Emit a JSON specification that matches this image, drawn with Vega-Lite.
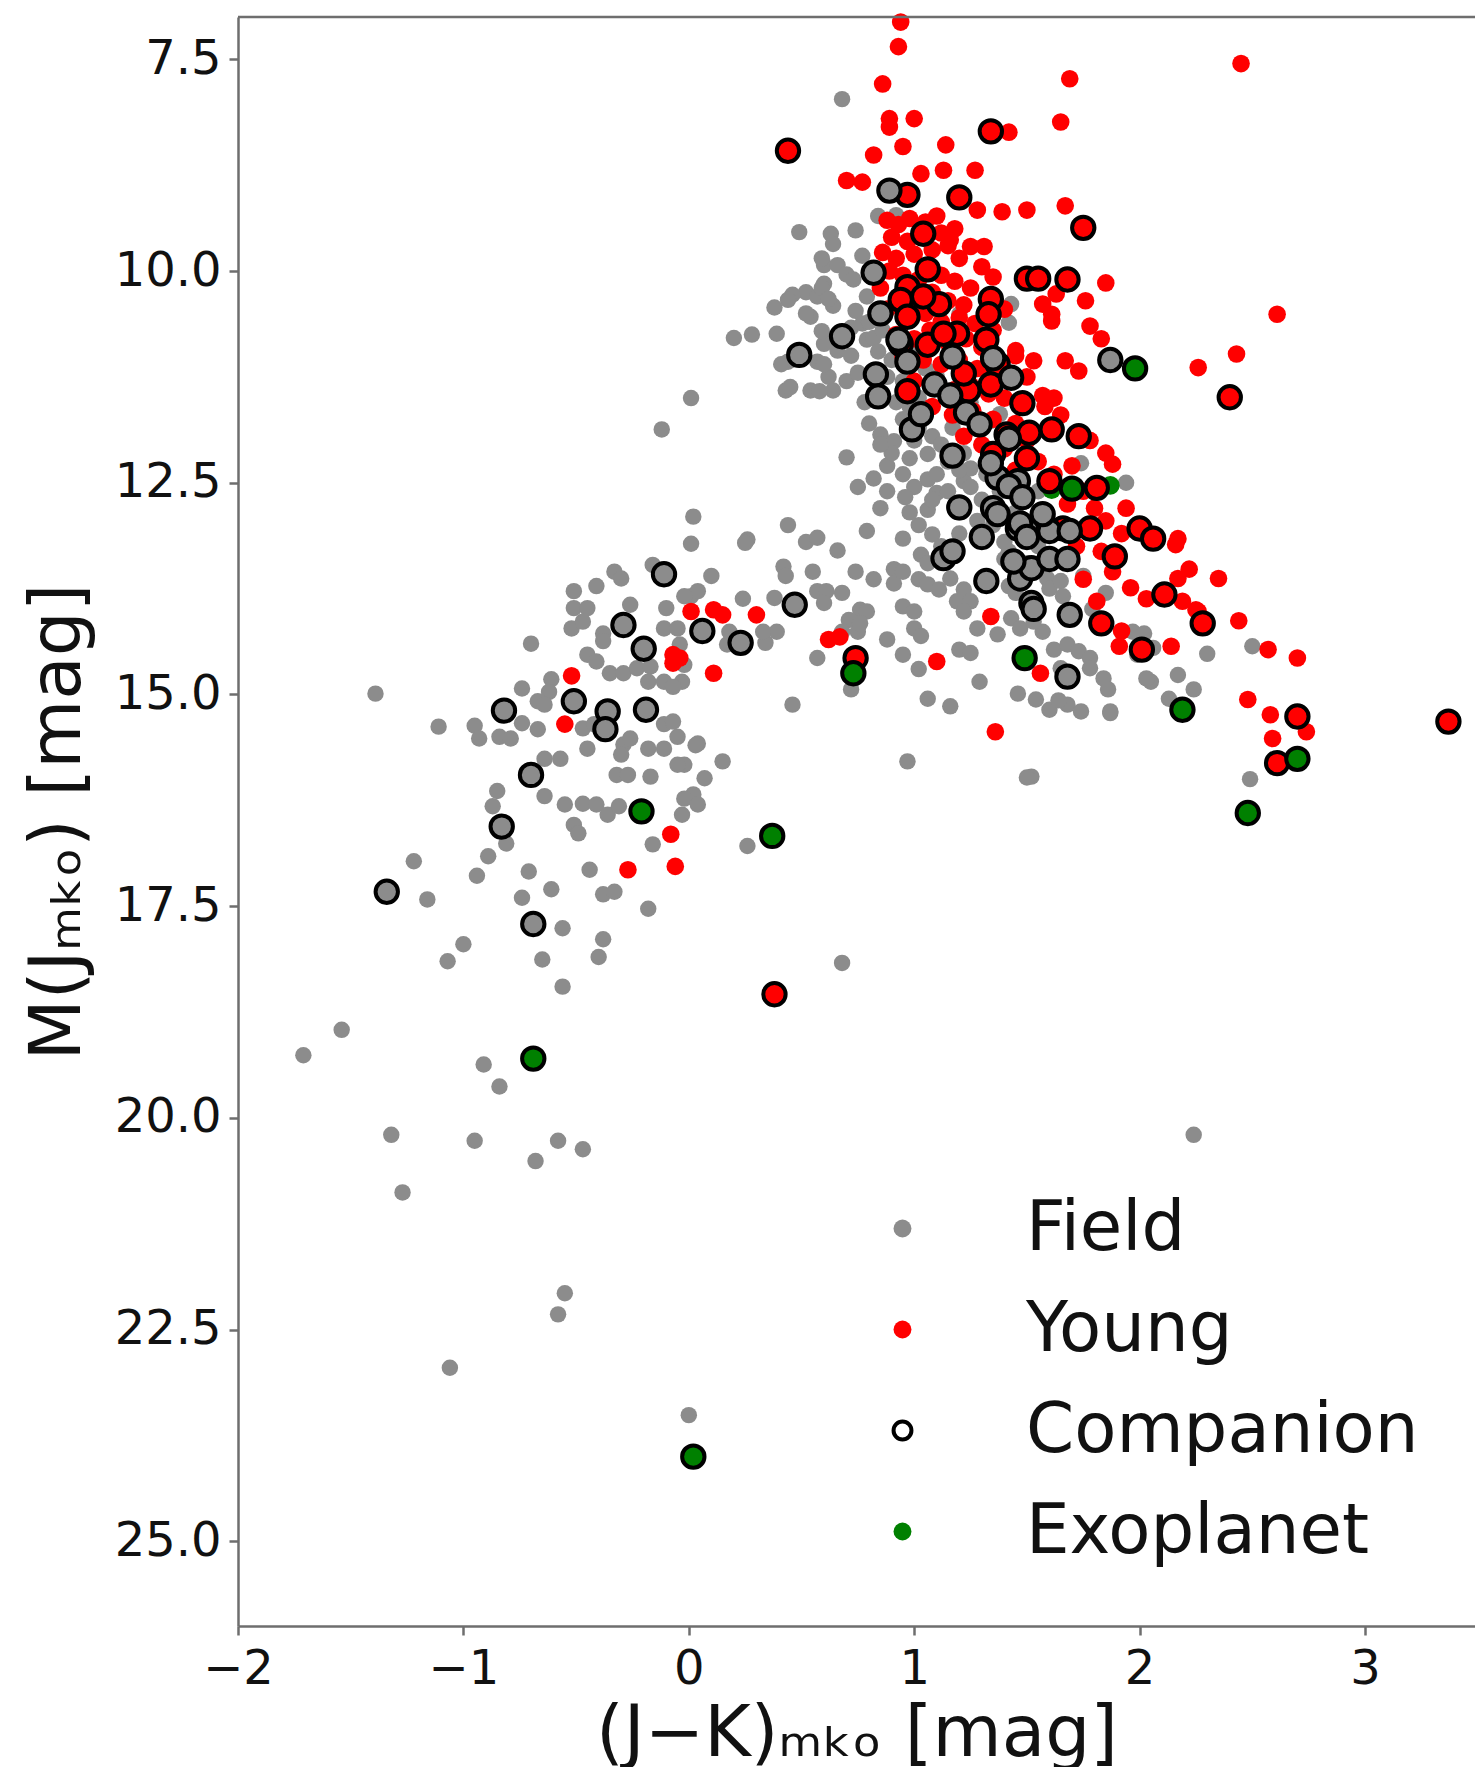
{
"$schema": "https://vega.github.io/schema/vega-lite/v6.json",
"autosize": {"type": "none"},
"padding": {"left": 238, "top": 17, "right": 0, "bottom": 141},
"width": 1237,
"height": 1609,
"background": "white",
"datasets": {
"pts": [
{"x":0.68,"y":7.97,"t":"Field"},{"x":0.84,"y":9.35,"t":"Field"},{"x":0.92,"y":9.34,"t":"Field"},{"x":0.49,"y":9.54,"t":"Field"},{"x":0.63,"y":9.56,"t":"Field"},{"x":0.64,"y":9.68,"t":"Field"},{"x":0.74,"y":9.52,"t":"Field"},{"x":0.77,"y":9.82,"t":"Field"},{"x":0.60,"y":9.93,"t":"Field"},{"x":0.66,"y":9.93,"t":"Field"},{"x":0.70,"y":10.04,"t":"Field"},{"x":0.73,"y":10.10,"t":"Field"},{"x":0.52,"y":10.25,"t":"Field"},{"x":0.60,"y":10.15,"t":"Field"},{"x":0.46,"y":10.28,"t":"Field"},{"x":0.59,"y":9.85,"t":"Field"},{"x":0.44,"y":10.34,"t":"Field"},{"x":0.38,"y":10.43,"t":"Field"},{"x":0.57,"y":10.30,"t":"Field"},{"x":0.64,"y":10.41,"t":"Field"},{"x":0.74,"y":10.47,"t":"Field"},{"x":0.79,"y":10.30,"t":"Field"},{"x":0.54,"y":10.54,"t":"Field"},{"x":0.72,"y":10.67,"t":"Field"},{"x":0.62,"y":10.81,"t":"Field"},{"x":0.79,"y":10.81,"t":"Field"},{"x":0.39,"y":10.74,"t":"Field"},{"x":0.28,"y":10.75,"t":"Field"},{"x":0.20,"y":10.79,"t":"Field"},{"x":0.44,"y":11.07,"t":"Field"},{"x":0.57,"y":11.07,"t":"Field"},{"x":0.62,"y":11.25,"t":"Field"},{"x":0.54,"y":11.41,"t":"Field"},{"x":0.64,"y":11.41,"t":"Field"},{"x":0.43,"y":11.41,"t":"Field"},{"x":0.01,"y":11.50,"t":"Field"},{"x":-0.12,"y":11.87,"t":"Field"},{"x":0.59,"y":10.20,"t":"Field"},{"x":0.62,"y":10.33,"t":"Field"},{"x":0.52,"y":10.50,"t":"Field"},{"x":0.41,"y":11.10,"t":"Field"},{"x":0.60,"y":11.10,"t":"Field"},{"x":0.45,"y":11.37,"t":"Field"},{"x":0.58,"y":11.42,"t":"Field"},{"x":0.70,"y":11.30,"t":"Field"},{"x":0.60,"y":10.86,"t":"Field"},{"x":0.59,"y":10.71,"t":"Field"},{"x":0.66,"y":10.94,"t":"Field"},{"x":0.77,"y":10.62,"t":"Field"},{"x":0.82,"y":10.79,"t":"Field"},{"x":0.85,"y":11.93,"t":"Field"},{"x":0.91,"y":12.01,"t":"Field"},{"x":0.88,"y":12.30,"t":"Field"},{"x":0.98,"y":12.21,"t":"Field"},{"x":1.06,"y":12.16,"t":"Field"},{"x":1.06,"y":12.46,"t":"Field"},{"x":1.10,"y":12.62,"t":"Field"},{"x":1.06,"y":12.82,"t":"Field"},{"x":0.02,"y":12.90,"t":"Field"},{"x":0.79,"y":13.07,"t":"Field"},{"x":0.95,"y":13.16,"t":"Field"},{"x":1.08,"y":13.11,"t":"Field"},{"x":0.26,"y":13.17,"t":"Field"},{"x":0.01,"y":13.22,"t":"Field"},{"x":0.25,"y":13.21,"t":"Field"},{"x":0.10,"y":13.60,"t":"Field"},{"x":0.42,"y":13.49,"t":"Field"},{"x":0.43,"y":13.60,"t":"Field"},{"x":0.55,"y":13.55,"t":"Field"},{"x":0.01,"y":13.84,"t":"Field"},{"x":0.04,"y":13.78,"t":"Field"},{"x":0.24,"y":13.87,"t":"Field"},{"x":0.38,"y":13.86,"t":"Field"},{"x":0.57,"y":13.78,"t":"Field"},{"x":0.61,"y":13.78,"t":"Field"},{"x":0.60,"y":13.92,"t":"Field"},{"x":0.76,"y":14.00,"t":"Field"},{"x":0.79,"y":14.02,"t":"Field"},{"x":0.71,"y":14.12,"t":"Field"},{"x":0.68,"y":14.26,"t":"Field"},{"x":0.75,"y":14.26,"t":"Field"},{"x":0.76,"y":14.16,"t":"Field"},{"x":0.88,"y":14.35,"t":"Field"},{"x":0.82,"y":13.64,"t":"Field"},{"x":0.91,"y":13.52,"t":"Field"},{"x":0.91,"y":13.69,"t":"Field"},{"x":0.95,"y":13.55,"t":"Field"},{"x":1.03,"y":13.35,"t":"Field"},{"x":1.06,"y":13.45,"t":"Field"},{"x":1.02,"y":13.64,"t":"Field"},{"x":1.06,"y":13.70,"t":"Field"},{"x":0.95,"y":13.96,"t":"Field"},{"x":1.00,"y":14.02,"t":"Field"},{"x":1.00,"y":14.22,"t":"Field"},{"x":1.03,"y":14.31,"t":"Field"},{"x":1.11,"y":13.76,"t":"Field"},{"x":1.16,"y":13.63,"t":"Field"},{"x":1.19,"y":13.90,"t":"Field"},{"x":0.95,"y":14.53,"t":"Field"},{"x":0.57,"y":14.57,"t":"Field"},{"x":0.34,"y":14.39,"t":"Field"},{"x":0.39,"y":14.26,"t":"Field"},{"x":0.33,"y":14.26,"t":"Field"},{"x":0.17,"y":14.41,"t":"Field"},{"x":0.18,"y":14.26,"t":"Field"},{"x":-0.03,"y":14.85,"t":"Field"},{"x":-0.04,"y":14.41,"t":"Field"},{"x":-0.02,"y":14.65,"t":"Field"},{"x":1.02,"y":14.70,"t":"Field"},{"x":1.06,"y":15.05,"t":"Field"},{"x":1.16,"y":15.14,"t":"Field"},{"x":0.72,"y":14.94,"t":"Field"},{"x":0.46,"y":15.12,"t":"Field"},{"x":1.20,"y":14.47,"t":"Field"},{"x":0.04,"y":15.58,"t":"Field"},{"x":0.15,"y":15.79,"t":"Field"},{"x":0.07,"y":15.99,"t":"Field"},{"x":-0.02,"y":15.83,"t":"Field"},{"x":0.97,"y":15.79,"t":"Field"},{"x":1.31,"y":13.11,"t":"Field"},{"x":1.42,"y":13.31,"t":"Field"},{"x":1.45,"y":13.45,"t":"Field"},{"x":1.40,"y":13.40,"t":"Field"},{"x":1.59,"y":13.63,"t":"Field"},{"x":1.60,"y":13.75,"t":"Field"},{"x":1.65,"y":13.66,"t":"Field"},{"x":1.22,"y":13.76,"t":"Field"},{"x":1.25,"y":13.90,"t":"Field"},{"x":1.22,"y":14.02,"t":"Field"},{"x":1.42,"y":13.72,"t":"Field"},{"x":1.45,"y":13.80,"t":"Field"},{"x":1.66,"y":13.84,"t":"Field"},{"x":1.43,"y":14.10,"t":"Field"},{"x":1.47,"y":14.22,"t":"Field"},{"x":1.57,"y":14.26,"t":"Field"},{"x":1.53,"y":14.14,"t":"Field"},{"x":1.28,"y":14.22,"t":"Field"},{"x":1.37,"y":14.29,"t":"Field"},{"x":1.25,"y":14.51,"t":"Field"},{"x":1.62,"y":14.47,"t":"Field"},{"x":1.68,"y":14.41,"t":"Field"},{"x":1.73,"y":14.49,"t":"Field"},{"x":1.78,"y":14.57,"t":"Field"},{"x":1.65,"y":14.69,"t":"Field"},{"x":1.78,"y":14.69,"t":"Field"},{"x":1.84,"y":14.81,"t":"Field"},{"x":1.29,"y":14.85,"t":"Field"},{"x":1.86,"y":14.94,"t":"Field"},{"x":1.87,"y":15.22,"t":"Field"},{"x":1.46,"y":14.99,"t":"Field"},{"x":1.54,"y":15.06,"t":"Field"},{"x":1.60,"y":15.18,"t":"Field"},{"x":1.68,"y":15.12,"t":"Field"},{"x":2.05,"y":14.85,"t":"Field"},{"x":2.17,"y":14.77,"t":"Field"},{"x":2.13,"y":15.05,"t":"Field"},{"x":2.24,"y":14.94,"t":"Field"},{"x":2.30,"y":14.52,"t":"Field"},{"x":1.52,"y":15.97,"t":"Field"},{"x":1.79,"y":13.99,"t":"Field"},{"x":1.85,"y":13.80,"t":"Field"},{"x":1.97,"y":14.26,"t":"Field"},{"x":2.02,"y":14.28,"t":"Field"},{"x":1.99,"y":14.53,"t":"Field"},{"x":2.06,"y":14.45,"t":"Field"},{"x":2.50,"y":14.43,"t":"Field"},{"x":2.49,"y":16.00,"t":"Field"},
{"x":-0.33,"y":13.55,"t":"Field"},{"x":-0.30,"y":13.63,"t":"Field"},{"x":-0.16,"y":13.47,"t":"Field"},{"x":-0.51,"y":13.78,"t":"Field"},{"x":-0.41,"y":13.72,"t":"Field"},{"x":-0.51,"y":13.98,"t":"Field"},{"x":-0.45,"y":13.98,"t":"Field"},{"x":-0.52,"y":14.22,"t":"Field"},{"x":-0.47,"y":14.14,"t":"Field"},{"x":-0.10,"y":13.98,"t":"Field"},{"x":-0.11,"y":14.22,"t":"Field"},{"x":-0.05,"y":14.22,"t":"Field"},{"x":-0.02,"y":13.84,"t":"Field"},{"x":-0.38,"y":14.28,"t":"Field"},{"x":-0.38,"y":14.37,"t":"Field"},{"x":-0.26,"y":13.94,"t":"Field"},{"x":-0.45,"y":14.53,"t":"Field"},{"x":-0.41,"y":14.61,"t":"Field"},{"x":-0.35,"y":14.75,"t":"Field"},{"x":-0.29,"y":14.75,"t":"Field"},{"x":-0.23,"y":14.69,"t":"Field"},{"x":-0.17,"y":14.67,"t":"Field"},{"x":-0.18,"y":14.85,"t":"Field"},{"x":-0.11,"y":14.85,"t":"Field"},{"x":-0.07,"y":14.91,"t":"Field"},{"x":-0.70,"y":14.40,"t":"Field"},{"x":-0.61,"y":14.82,"t":"Field"},{"x":-0.62,"y":14.97,"t":"Field"},{"x":-0.74,"y":14.93,"t":"Field"},{"x":-0.67,"y":15.08,"t":"Field"},{"x":-0.64,"y":15.12,"t":"Field"},{"x":-1.39,"y":14.99,"t":"Field"},{"x":-0.95,"y":15.37,"t":"Field"},{"x":-0.93,"y":15.52,"t":"Field"},{"x":-0.84,"y":15.50,"t":"Field"},{"x":-0.79,"y":15.52,"t":"Field"},{"x":-0.74,"y":15.34,"t":"Field"},{"x":-0.67,"y":15.41,"t":"Field"},{"x":-0.47,"y":15.40,"t":"Field"},{"x":-0.42,"y":15.35,"t":"Field"},{"x":-0.45,"y":15.64,"t":"Field"},{"x":-0.29,"y":15.59,"t":"Field"},{"x":-0.26,"y":15.52,"t":"Field"},{"x":-0.18,"y":15.64,"t":"Field"},{"x":-0.11,"y":15.64,"t":"Field"},{"x":-0.05,"y":15.50,"t":"Field"},{"x":-0.11,"y":15.35,"t":"Field"},{"x":-0.07,"y":15.32,"t":"Field"},{"x":-0.30,"y":15.71,"t":"Field"},{"x":-0.32,"y":15.95,"t":"Field"},{"x":-0.27,"y":15.95,"t":"Field"},{"x":-0.17,"y":15.97,"t":"Field"},{"x":-0.05,"y":15.83,"t":"Field"},{"x":-0.64,"y":15.76,"t":"Field"},{"x":-0.57,"y":15.76,"t":"Field"},{"x":-0.85,"y":16.14,"t":"Field"},{"x":-0.64,"y":16.20,"t":"Field"},{"x":0.03,"y":15.60,"t":"Field"},{"x":0.02,"y":16.18,"t":"Field"},{"x":-0.87,"y":16.32,"t":"Field"},{"x":-0.55,"y":16.30,"t":"Field"},{"x":-0.47,"y":16.29,"t":"Field"},{"x":-0.41,"y":16.30,"t":"Field"},{"x":-0.36,"y":16.42,"t":"Field"},{"x":-0.31,"y":16.32,"t":"Field"},{"x":-0.51,"y":16.54,"t":"Field"},{"x":-0.49,"y":16.64,"t":"Field"},{"x":-0.02,"y":16.23,"t":"Field"},{"x":0.04,"y":16.30,"t":"Field"},{"x":-0.03,"y":16.42,"t":"Field"},{"x":-0.16,"y":16.77,"t":"Field"},{"x":-0.81,"y":16.76,"t":"Field"},{"x":-0.89,"y":16.91,"t":"Field"},{"x":-0.94,"y":17.14,"t":"Field"},{"x":-1.22,"y":16.97,"t":"Field"},{"x":-1.16,"y":17.42,"t":"Field"},{"x":-0.71,"y":17.09,"t":"Field"},{"x":-0.61,"y":17.30,"t":"Field"},{"x":-0.74,"y":17.40,"t":"Field"},{"x":-0.44,"y":17.07,"t":"Field"},{"x":-0.38,"y":17.36,"t":"Field"},{"x":-0.33,"y":17.33,"t":"Field"},{"x":-0.18,"y":17.53,"t":"Field"},{"x":-0.56,"y":17.76,"t":"Field"},{"x":-0.38,"y":17.89,"t":"Field"},{"x":-0.40,"y":18.10,"t":"Field"},{"x":-1.00,"y":17.95,"t":"Field"},{"x":-1.07,"y":18.15,"t":"Field"},{"x":-0.65,"y":18.13,"t":"Field"},{"x":-0.56,"y":18.45,"t":"Field"},{"x":-1.54,"y":18.96,"t":"Field"},{"x":-1.71,"y":19.26,"t":"Field"},{"x":-0.91,"y":19.37,"t":"Field"},{"x":-0.84,"y":19.63,"t":"Field"},{"x":0.26,"y":16.79,"t":"Field"},{"x":-1.32,"y":20.20,"t":"Field"},{"x":-0.95,"y":20.27,"t":"Field"},{"x":-0.58,"y":20.27,"t":"Field"},{"x":-0.47,"y":20.37,"t":"Field"},{"x":-0.68,"y":20.51,"t":"Field"},{"x":-1.27,"y":20.88,"t":"Field"},{"x":2.24,"y":20.20,"t":"Field"},{"x":-0.55,"y":22.07,"t":"Field"},{"x":-0.58,"y":22.32,"t":"Field"},{"x":-1.06,"y":22.95,"t":"Field"},{"x":0.00,"y":23.51,"t":"Field"},{"x":-1.11,"y":15.38,"t":"Field"},{"x":0.68,"y":18.17,"t":"Field"},{"x":1.50,"y":15.98,"t":"Field"},{"x":1.64,"y":15.07,"t":"Field"},{"x":1.74,"y":15.20,"t":"Field"},{"x":1.87,"y":15.20,"t":"Field"},{"x":2.03,"y":14.81,"t":"Field"},{"x":1.43,"y":10.39,"t":"Field"},{"x":1.42,"y":10.61,"t":"Field"},{"x":1.20,"y":10.51,"t":"Field"},{"x":1.38,"y":11.69,"t":"Field"},{"x":1.34,"y":11.77,"t":"Field"},{"x":1.74,"y":12.27,"t":"Field"},{"x":1.94,"y":12.50,"t":"Field"},{"x":1.30,"y":13.10,"t":"Field"},{"x":1.22,"y":12.48,"t":"Field"},{"x":1.25,"y":12.33,"t":"Field"},
{"x":0.80,"y":10.60,"t":"Field"},{"x":0.86,"y":10.70,"t":"Field"},{"x":0.84,"y":10.95,"t":"Field"},{"x":0.90,"y":11.05,"t":"Field"},{"x":0.88,"y":11.25,"t":"Field"},{"x":0.95,"y":11.30,"t":"Field"},{"x":0.92,"y":11.55,"t":"Field"},{"x":0.98,"y":11.60,"t":"Field"},{"x":1.02,"y":11.50,"t":"Field"},{"x":0.95,"y":11.75,"t":"Field"},{"x":1.02,"y":11.85,"t":"Field"},{"x":1.08,"y":11.95,"t":"Field"},{"x":1.12,"y":12.05,"t":"Field"},{"x":1.00,"y":12.00,"t":"Field"},{"x":1.15,"y":12.25,"t":"Field"},{"x":1.20,"y":12.35,"t":"Field"},{"x":1.10,"y":12.40,"t":"Field"},{"x":1.25,"y":12.55,"t":"Field"},{"x":1.15,"y":12.60,"t":"Field"},{"x":1.30,"y":12.70,"t":"Field"},{"x":1.20,"y":12.85,"t":"Field"},{"x":1.28,"y":12.95,"t":"Field"},{"x":1.35,"y":13.00,"t":"Field"},{"x":1.40,"y":13.20,"t":"Field"},{"x":1.45,"y":12.85,"t":"Field"},{"x":1.38,"y":12.60,"t":"Field"},{"x":1.32,"y":12.40,"t":"Field"},{"x":1.22,"y":12.15,"t":"Field"},{"x":1.17,"y":11.85,"t":"Field"},{"x":1.25,"y":11.55,"t":"Field"},{"x":1.10,"y":11.25,"t":"Field"},{"x":1.05,"y":11.15,"t":"Field"},{"x":0.98,"y":10.95,"t":"Field"},{"x":1.08,"y":12.70,"t":"Field"},{"x":1.00,"y":12.55,"t":"Field"},{"x":0.95,"y":12.40,"t":"Field"},{"x":0.90,"y":12.15,"t":"Field"},{"x":0.85,"y":12.05,"t":"Field"},{"x":0.80,"y":11.80,"t":"Field"},{"x":0.78,"y":11.55,"t":"Field"},{"x":0.75,"y":11.20,"t":"Field"},{"x":0.72,"y":11.00,"t":"Field"},{"x":1.55,"y":13.25,"t":"Field"},{"x":1.50,"y":13.45,"t":"Field"},{"x":1.62,"y":13.10,"t":"Field"},{"x":1.70,"y":13.40,"t":"Field"},{"x":1.75,"y":13.60,"t":"Field"},{"x":1.48,"y":12.70,"t":"Field"},{"x":1.55,"y":12.60,"t":"Field"},{"x":1.02,"y":13.00,"t":"Field"},{"x":0.98,"y":12.85,"t":"Field"},{"x":1.12,"y":13.25,"t":"Field"},{"x":1.20,"y":13.10,"t":"Field"},{"x":0.88,"y":12.60,"t":"Field"},{"x":0.85,"y":12.80,"t":"Field"},{"x":0.82,"y":12.45,"t":"Field"},{"x":0.70,"y":12.20,"t":"Field"},{"x":0.75,"y":12.55,"t":"Field"},{"x":0.44,"y":13.00,"t":"Field"},{"x":0.52,"y":13.20,"t":"Field"},{"x":0.57,"y":13.15,"t":"Field"},{"x":0.66,"y":13.30,"t":"Field"},{"x":0.74,"y":13.55,"t":"Field"},{"x":0.68,"y":13.80,"t":"Field"},{"x":0.96,"y":12.67,"t":"Field"},
{"x":0.94,"y":7.06,"t":"Young"},{"x":0.93,"y":7.35,"t":"Young"},{"x":0.86,"y":7.79,"t":"Young"},{"x":0.89,"y":8.20,"t":"Young"},{"x":0.89,"y":8.30,"t":"Young"},{"x":1.00,"y":8.20,"t":"Young"},{"x":0.82,"y":8.63,"t":"Young"},{"x":0.95,"y":8.53,"t":"Young"},{"x":1.14,"y":8.51,"t":"Young"},{"x":1.27,"y":8.81,"t":"Young"},{"x":0.70,"y":8.93,"t":"Young"},{"x":0.77,"y":8.95,"t":"Young"},{"x":1.03,"y":8.85,"t":"Young"},{"x":1.13,"y":8.81,"t":"Young"},{"x":1.28,"y":9.28,"t":"Young"},{"x":1.39,"y":9.30,"t":"Young"},{"x":1.35,"y":10.07,"t":"Young"},{"x":1.16,"y":9.63,"t":"Young"},{"x":1.25,"y":9.71,"t":"Young"},{"x":1.31,"y":9.71,"t":"Young"},{"x":1.69,"y":7.73,"t":"Young"},{"x":2.45,"y":7.55,"t":"Young"},{"x":1.65,"y":8.24,"t":"Young"},{"x":1.42,"y":8.36,"t":"Young"},{"x":1.50,"y":9.28,"t":"Young"},{"x":1.67,"y":9.23,"t":"Young"},{"x":1.85,"y":10.14,"t":"Young"},{"x":1.63,"y":10.27,"t":"Young"},{"x":1.57,"y":10.39,"t":"Young"},{"x":1.61,"y":10.51,"t":"Young"},{"x":1.76,"y":10.35,"t":"Young"},{"x":2.61,"y":10.51,"t":"Young"},{"x":2.43,"y":10.98,"t":"Young"},{"x":2.26,"y":11.14,"t":"Young"},{"x":2.16,"y":13.23,"t":"Young"},{"x":1.61,"y":10.59,"t":"Young"},{"x":1.78,"y":10.65,"t":"Young"},{"x":1.83,"y":10.80,"t":"Young"},{"x":1.53,"y":11.06,"t":"Young"},{"x":1.67,"y":11.06,"t":"Young"},{"x":1.73,"y":11.18,"t":"Young"},{"x":1.45,"y":10.94,"t":"Young"},{"x":1.62,"y":11.50,"t":"Young"},{"x":1.88,"y":12.28,"t":"Young"},{"x":1.94,"y":12.80,"t":"Young"},{"x":2.17,"y":13.16,"t":"Young"},{"x":1.57,"y":11.47,"t":"Young"},{"x":1.41,"y":11.25,"t":"Young"},{"x":1.34,"y":14.08,"t":"Young"},{"x":1.56,"y":14.75,"t":"Young"},{"x":1.36,"y":15.44,"t":"Young"},{"x":1.75,"y":13.64,"t":"Young"},{"x":1.81,"y":13.90,"t":"Young"},{"x":1.91,"y":14.43,"t":"Young"},{"x":1.96,"y":13.74,"t":"Young"},{"x":2.14,"y":14.43,"t":"Young"},{"x":2.22,"y":13.52,"t":"Young"},{"x":2.17,"y":13.63,"t":"Young"},{"x":2.03,"y":13.87,"t":"Young"},{"x":2.19,"y":13.90,"t":"Young"},{"x":2.26,"y":14.02,"t":"Young"},{"x":1.83,"y":13.31,"t":"Young"},{"x":1.88,"y":13.55,"t":"Young"},{"x":1.92,"y":14.25,"t":"Young"},{"x":2.35,"y":13.63,"t":"Young"},{"x":2.25,"y":14.00,"t":"Young"},{"x":2.44,"y":14.13,"t":"Young"},{"x":2.57,"y":14.47,"t":"Young"},{"x":2.70,"y":14.57,"t":"Young"},{"x":2.48,"y":15.06,"t":"Young"},{"x":2.58,"y":15.24,"t":"Young"},{"x":2.74,"y":15.44,"t":"Young"},{"x":2.59,"y":15.52,"t":"Young"},{"x":1.10,"y":14.61,"t":"Young"},{"x":0.62,"y":14.35,"t":"Young"},{"x":0.67,"y":14.32,"t":"Young"},{"x":0.01,"y":14.02,"t":"Young"},{"x":0.11,"y":14.00,"t":"Young"},{"x":0.15,"y":14.06,"t":"Young"},{"x":0.30,"y":14.06,"t":"Young"},{"x":0.11,"y":14.75,"t":"Young"},{"x":-0.04,"y":14.57,"t":"Young"},{"x":-0.52,"y":14.78,"t":"Young"},{"x":-0.55,"y":15.35,"t":"Young"},{"x":-0.07,"y":14.53,"t":"Young"},{"x":-0.07,"y":14.63,"t":"Young"},{"x":-0.08,"y":16.65,"t":"Young"},{"x":-0.27,"y":17.07,"t":"Young"},{"x":-0.06,"y":17.03,"t":"Young"},
{"x":0.88,"y":9.40,"t":"Young"},{"x":0.93,"y":9.45,"t":"Young"},{"x":0.98,"y":9.38,"t":"Young"},{"x":1.05,"y":9.42,"t":"Young"},{"x":1.10,"y":9.35,"t":"Young"},{"x":0.90,"y":9.60,"t":"Young"},{"x":0.97,"y":9.65,"t":"Young"},{"x":1.12,"y":9.55,"t":"Young"},{"x":1.18,"y":9.50,"t":"Young"},{"x":0.86,"y":9.78,"t":"Young"},{"x":0.92,"y":9.85,"t":"Young"},{"x":1.00,"y":9.80,"t":"Young"},{"x":1.08,"y":9.75,"t":"Young"},{"x":1.15,"y":9.70,"t":"Young"},{"x":1.20,"y":9.85,"t":"Young"},{"x":0.89,"y":10.00,"t":"Young"},{"x":0.95,"y":10.05,"t":"Young"},{"x":1.02,"y":10.10,"t":"Young"},{"x":1.12,"y":10.05,"t":"Young"},{"x":1.18,"y":10.12,"t":"Young"},{"x":0.85,"y":10.20,"t":"Young"},{"x":0.93,"y":10.30,"t":"Young"},{"x":1.00,"y":10.35,"t":"Young"},{"x":1.08,"y":10.25,"t":"Young"},{"x":1.15,"y":10.35,"t":"Young"},{"x":1.22,"y":10.40,"t":"Young"},{"x":0.88,"y":10.45,"t":"Young"},{"x":0.96,"y":10.55,"t":"Young"},{"x":1.05,"y":10.50,"t":"Young"},{"x":1.12,"y":10.60,"t":"Young"},{"x":1.20,"y":10.55,"t":"Young"},{"x":1.27,"y":10.62,"t":"Young"},{"x":0.92,"y":10.75,"t":"Young"},{"x":1.00,"y":10.80,"t":"Young"},{"x":1.07,"y":10.70,"t":"Young"},{"x":1.15,"y":10.85,"t":"Young"},{"x":1.23,"y":10.80,"t":"Young"},{"x":1.30,"y":10.90,"t":"Young"},{"x":0.95,"y":11.00,"t":"Young"},{"x":1.04,"y":11.05,"t":"Young"},{"x":1.12,"y":11.10,"t":"Young"},{"x":1.20,"y":11.05,"t":"Young"},{"x":1.28,"y":11.15,"t":"Young"},{"x":1.35,"y":11.20,"t":"Young"},{"x":1.00,"y":11.30,"t":"Young"},{"x":1.10,"y":11.35,"t":"Young"},{"x":1.18,"y":11.40,"t":"Young"},{"x":1.25,"y":11.35,"t":"Young"},{"x":1.33,"y":11.45,"t":"Young"},{"x":1.40,"y":11.50,"t":"Young"},{"x":1.08,"y":11.60,"t":"Young"},{"x":1.17,"y":11.70,"t":"Young"},{"x":1.26,"y":11.65,"t":"Young"},{"x":1.35,"y":11.75,"t":"Young"},{"x":1.45,"y":11.80,"t":"Young"},{"x":1.22,"y":11.95,"t":"Young"},{"x":1.30,"y":12.05,"t":"Young"},{"x":1.40,"y":12.10,"t":"Young"},{"x":1.50,"y":12.00,"t":"Young"},{"x":1.55,"y":12.25,"t":"Young"},{"x":1.45,"y":12.35,"t":"Young"},{"x":1.62,"y":12.40,"t":"Young"},{"x":1.70,"y":12.30,"t":"Young"},{"x":1.75,"y":12.60,"t":"Young"},{"x":1.68,"y":12.75,"t":"Young"},{"x":1.80,"y":12.80,"t":"Young"},{"x":1.85,"y":12.95,"t":"Young"},{"x":1.92,"y":13.10,"t":"Young"},{"x":1.30,"y":9.95,"t":"Young"},{"x":1.25,"y":10.20,"t":"Young"},{"x":1.40,"y":10.45,"t":"Young"},{"x":1.35,"y":10.70,"t":"Young"},{"x":1.45,"y":11.00,"t":"Young"},{"x":1.50,"y":11.25,"t":"Young"},{"x":1.58,"y":11.60,"t":"Young"},{"x":1.65,"y":11.70,"t":"Young"},{"x":1.78,"y":12.00,"t":"Young"},{"x":1.85,"y":12.15,"t":"Young"},{"x":1.58,"y":12.90,"t":"Young"},{"x":1.72,"y":13.25,"t":"Young"},
{"x":1.61,"y":12.58,"t":"Exoplanet"},{"x":1.87,"y":12.53,"t":"Exoplanet"}
],
"comp": [
{"x":0.44,"y":8.58,"t":"Young"},{"x":1.34,"y":8.35,"t":"Young"},{"x":0.97,"y":9.10,"t":"Young"},{"x":1.20,"y":9.13,"t":"Young"},{"x":1.75,"y":9.49,"t":"Young"},{"x":1.04,"y":9.56,"t":"Young"},{"x":1.06,"y":9.98,"t":"Young"},{"x":1.50,"y":10.09,"t":"Young"},{"x":1.55,"y":10.09,"t":"Young"},{"x":1.68,"y":10.10,"t":"Young"},{"x":1.34,"y":10.33,"t":"Young"},{"x":1.33,"y":10.51,"t":"Young"},{"x":1.11,"y":10.39,"t":"Young"},{"x":0.94,"y":10.86,"t":"Young"},{"x":0.97,"y":11.42,"t":"Young"},{"x":1.19,"y":10.74,"t":"Young"},{"x":2.40,"y":11.49,"t":"Young"},{"x":1.48,"y":11.56,"t":"Young"},{"x":1.61,"y":11.87,"t":"Young"},{"x":1.73,"y":11.95,"t":"Young"},{"x":1.41,"y":11.93,"t":"Young"},{"x":1.51,"y":11.91,"t":"Young"},{"x":1.50,"y":12.21,"t":"Young"},{"x":1.35,"y":12.16,"t":"Young"},{"x":1.60,"y":12.48,"t":"Young"},{"x":1.81,"y":12.56,"t":"Young"},{"x":1.66,"y":13.04,"t":"Young"},{"x":1.78,"y":13.04,"t":"Young"},{"x":2.00,"y":13.04,"t":"Young"},{"x":2.06,"y":13.16,"t":"Young"},{"x":1.89,"y":13.37,"t":"Young"},{"x":1.83,"y":14.16,"t":"Young"},{"x":2.11,"y":13.82,"t":"Young"},{"x":2.28,"y":14.16,"t":"Young"},{"x":2.01,"y":14.47,"t":"Young"},{"x":0.74,"y":14.57,"t":"Young"},{"x":2.70,"y":15.26,"t":"Young"},{"x":3.37,"y":15.32,"t":"Young"},{"x":2.61,"y":15.81,"t":"Young"},{"x":0.38,"y":18.54,"t":"Young"},{"x":0.97,"y":10.19,"t":"Young"},{"x":0.94,"y":10.34,"t":"Young"},{"x":1.04,"y":10.30,"t":"Young"},{"x":0.97,"y":10.54,"t":"Young"},{"x":1.06,"y":10.87,"t":"Young"},{"x":1.13,"y":10.74,"t":"Young"},{"x":1.32,"y":10.81,"t":"Young"},{"x":1.37,"y":11.10,"t":"Young"},{"x":1.24,"y":11.41,"t":"Young"},{"x":1.34,"y":11.34,"t":"Young"},{"x":1.22,"y":11.21,"t":"Young"},
{"x":0.89,"y":9.05,"t":"Field"},{"x":0.82,"y":10.02,"t":"Field"},{"x":0.68,"y":10.77,"t":"Field"},{"x":0.49,"y":10.99,"t":"Field"},{"x":1.87,"y":11.05,"t":"Field"},{"x":0.83,"y":11.22,"t":"Field"},{"x":0.84,"y":11.48,"t":"Field"},{"x":0.99,"y":11.87,"t":"Field"},{"x":1.17,"y":12.18,"t":"Field"},{"x":1.20,"y":12.79,"t":"Field"},{"x":1.37,"y":12.44,"t":"Field"},{"x":1.46,"y":12.48,"t":"Field"},{"x":1.35,"y":12.80,"t":"Field"},{"x":1.46,"y":13.04,"t":"Field"},{"x":1.50,"y":13.05,"t":"Field"},{"x":1.60,"y":13.07,"t":"Field"},{"x":1.69,"y":13.07,"t":"Field"},{"x":1.13,"y":13.39,"t":"Field"},{"x":1.17,"y":13.31,"t":"Field"},{"x":1.32,"y":13.66,"t":"Field"},{"x":1.47,"y":13.63,"t":"Field"},{"x":1.52,"y":13.51,"t":"Field"},{"x":1.60,"y":13.40,"t":"Field"},{"x":1.68,"y":13.40,"t":"Field"},{"x":1.52,"y":13.92,"t":"Field"},{"x":1.53,"y":13.99,"t":"Field"},{"x":1.69,"y":14.06,"t":"Field"},{"x":1.68,"y":14.79,"t":"Field"},{"x":0.47,"y":13.94,"t":"Field"},{"x":0.23,"y":14.39,"t":"Field"},{"x":0.06,"y":14.25,"t":"Field"},{"x":-0.11,"y":13.58,"t":"Field"},{"x":-0.29,"y":14.18,"t":"Field"},{"x":-0.20,"y":14.46,"t":"Field"},{"x":-0.51,"y":15.08,"t":"Field"},{"x":-0.36,"y":15.20,"t":"Field"},{"x":-0.37,"y":15.41,"t":"Field"},{"x":-0.19,"y":15.18,"t":"Field"},{"x":-0.82,"y":15.19,"t":"Field"},{"x":-0.70,"y":15.95,"t":"Field"},{"x":-0.83,"y":16.56,"t":"Field"},{"x":-1.34,"y":17.33,"t":"Field"},{"x":-0.69,"y":17.71,"t":"Field"},{"x":1.43,"y":11.26,"t":"Field"},{"x":1.35,"y":11.03,"t":"Field"},{"x":0.85,"y":10.50,"t":"Field"},{"x":1.03,"y":11.69,"t":"Field"},{"x":0.93,"y":10.81,"t":"Field"},{"x":0.97,"y":11.07,"t":"Field"},{"x":1.17,"y":11.01,"t":"Field"},{"x":1.09,"y":11.34,"t":"Field"},{"x":1.16,"y":11.47,"t":"Field"},{"x":1.23,"y":11.67,"t":"Field"},{"x":1.29,"y":11.81,"t":"Field"},{"x":1.42,"y":11.98,"t":"Field"},{"x":1.34,"y":12.27,"t":"Field"},{"x":1.42,"y":12.54,"t":"Field"},{"x":1.48,"y":12.67,"t":"Field"},{"x":1.57,"y":12.87,"t":"Field"},{"x":1.47,"y":12.98,"t":"Field"},{"x":1.37,"y":12.87,"t":"Field"},{"x":1.30,"y":13.14,"t":"Field"},{"x":1.50,"y":13.14,"t":"Field"},{"x":1.44,"y":13.43,"t":"Field"},
{"x":1.70,"y":12.57,"t":"Exoplanet"},{"x":1.98,"y":11.15,"t":"Exoplanet"},{"x":1.49,"y":14.57,"t":"Exoplanet"},{"x":0.73,"y":14.75,"t":"Exoplanet"},{"x":2.19,"y":15.18,"t":"Exoplanet"},{"x":2.70,"y":15.76,"t":"Exoplanet"},{"x":2.48,"y":16.40,"t":"Exoplanet"},{"x":-0.21,"y":16.38,"t":"Exoplanet"},{"x":0.37,"y":16.67,"t":"Exoplanet"},{"x":-0.69,"y":19.30,"t":"Exoplanet"},{"x":0.02,"y":24.00,"t":"Exoplanet"}
]
},
"layer": [
{
"data": {"name": "pts"},
"mark": {"type": "point", "filled": true, "opacity": 1, "strokeWidth": 0},
"encoding": {
"x": {"field": "x", "type": "quantitative",
 "scale": {"domain": [-2, 3.488], "nice": false, "zero": false},
 "axis": {"values": [-2, -1, 0, 1, 2, 3], "format": "d", "title": "(J−K)ₘₖₒ [mag]", "labelFlush": false}},
"y": {"field": "y", "type": "quantitative",
 "scale": {"domain": [7, 26], "reverse": true, "nice": false, "zero": false},
 "axis": {"values": [7.5, 10, 12.5, 15, 17.5, 20, 22.5, 25], "format": ".1f", "title": "M(Jₘₖₒ)  [mag]", "labelFlush": false}},
"fill": {"field": "t", "type": "nominal",
 "scale": {"domain": ["Field", "Young", "Companion", "Exoplanet"], "range": ["#8c8c8c", "#ff0000", "transparent", "#008000"]},
 "legend": {"title": null, "orient": "none", "legendX": 630, "legendY": 1177}},
"stroke": {"field": "t", "type": "nominal",
 "scale": {"domain": ["Field", "Young", "Companion", "Exoplanet"], "range": ["transparent", "transparent", "#000000", "transparent"]},
 "legend": {"title": null, "orient": "none", "legendX": 630, "legendY": 1177}},
"size": {"field": "t", "type": "nominal",
 "scale": {"domain": ["Field", "Young", "Exoplanet"], "range": [270, 350, 350]},
 "legend": null}
}
},
{
"data": {"name": "comp"},
"mark": {"type": "point", "filled": true, "opacity": 1, "stroke": "#000000", "strokeWidth": 4, "size": 500},
"encoding": {
"x": {"field": "x", "type": "quantitative"},
"y": {"field": "y", "type": "quantitative"},
"fill": {"field": "t", "type": "nominal"}
}
},
{
"data": {"values": [{}]},
"mark": {"type": "rule", "color": "#6e6e6e", "strokeWidth": 2.5},
"encoding": {"y": {"datum": 7}}
}
],
"config": {
"view": {"stroke": null},
"font": "DejaVu Sans",
"axis": {"domainColor": "#6e6e6e", "domainWidth": 2.5, "tickColor": "#6e6e6e", "tickWidth": 2.5, "tickSize": 9, "grid": false,
 "labelFont": "DejaVu Sans", "labelFontSize": 48, "labelColor": "#111111",
 "titleFont": "DejaVu Sans", "titleFontSize": 71, "titleFontWeight": "normal", "titleColor": "#111111"},
"axisX": {"labelPadding": 10, "titlePadding": 6},
"axisY": {"labelPadding": 8, "titlePadding": 20},
"legend": {"labelFontSize": 69, "labelFont": "DejaVu Sans", "labelColor": "#111111", "labelLimit": 0, "symbolSize": 320, "symbolStrokeWidth": 4, "symbolType": "circle", "rowPadding": 31, "labelOffset": 89, "padding": 0}
}
}
